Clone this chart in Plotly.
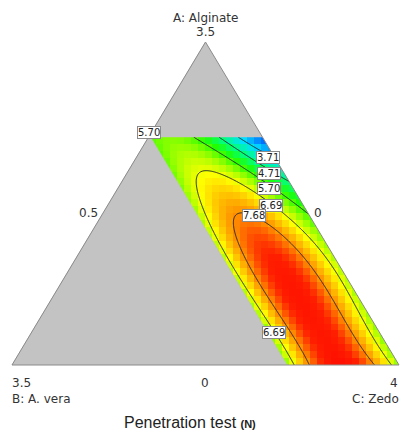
import numpy as np
import plotly.graph_objects as go

# ---------------- data ----------------
# constrained mixture region (pseudo fractions): A <= A_MAX, B <= B_MAX
A_MAX = 0.706
B_MAX = 0.289

# response samples (a = A/A_MAX, b = B/B_MAX, value in N), read row by row
sample_a = [0, 0, 0, 0, 0, 0, 0,
            0.25, 0.25, 0.25, 0.25, 0.25, 0.25, 0.25,
            0.5, 0.5, 0.5, 0.5, 0.5, 0.5, 0.5,
            0.75, 0.75, 0.75, 0.75, 0.75, 0.75,
            0.875, 0.875, 0.875, 0.875,
            1, 1, 1, 1, 1, 1,
            0.658]
sample_b = [0, 0.08, 0.25, 0.5, 0.75, 0.95, 1,
            0, 0.125, 0.23, 0.5, 0.82, 0.95, 1,
            0, 0.08, 0.16, 0.5, 0.79, 0.95, 1,
            0, 0.25, 0.5, 0.75, 0.91, 1,
            0, 0.4, 0.69, 1,
            0, 0.26, 0.35, 0.55, 0.78, 1,
            0.53]
sample_z = [6.4, 6.69, 7.7, 8.7, 7.8, 6.69, 6.1,
            6.2, 6.69, 7.68, 8.7, 7.68, 6.69, 6.2,
            5.9, 6.69, 7.68, 8.0, 7.68, 6.69, 6.2,
            5.4, 6.2, 7.1, 6.9, 6.69, 6.3,
            3.9, 5.6, 6.69, 5.9,
            2.7, 3.71, 4.71, 5.70, 5.95, 5.70,
            7.68]

contour_levels = [3.71, 4.71, 5.70, 6.69, 7.68]
contour_labels = ["5.70", "3.71", "4.71", "5.70", "6.69", "7.68", "6.69"]

vertex_titles = ["A: Alginate", "B: A. vera", "C: Zedo"]
vertex_values = ["3.5", "3.5", "4"]
side_ticks = ["0.5", "0", "0"]
chart_title = "Penetration test"
unit_text = "(N)"

# ---------------- model fit (quartic in a, b) ----------------
DEG = 4
terms = [(i, j) for i in range(DEG + 1) for j in range(DEG + 1) if i + j <= DEG]
sa, sb, sz = np.array(sample_a), np.array(sample_b), np.array(sample_z)
M = np.column_stack([sa**i * sb**j for i, j in terms])
coef, *_ = np.linalg.lstsq(M, sz, rcond=None)


def model(x, y):
    A = y
    C = x - y / 2
    B = 1 - A - C
    a = np.clip(A / A_MAX, 0, 1)
    b = np.clip(B / B_MAX, 0, 1)
    return sum(c * a**i * b**j for c, (i, j) in zip(coef, terms))


# pixel helpers (plot area == full page)
def px(p):
    return (p - 12) / 387.0


def py(q):
    return (365 - q) / 323.0


# coarse heatmap grid (Design-Expert pixels)
ny = 33
dy = A_MAX / ny
hy = dy / 2 + dy * np.arange(ny)
x0 = 0.355
nx = 36
dx = (1.005 - x0) / nx
hx = x0 + dx / 2 + dx * np.arange(nx)
HX, HY = np.meshgrid(hx, hy)
HZ = model(HX, HY)

# fine grid for contour lines
cx = np.linspace(0.30, 1.05, 300)
cy = np.linspace(-0.01, 0.72, 300)
CX, CY = np.meshgrid(cx, cy)
CZ = model(CX, CY)

ZMIN, ZMAX = 2.2, 8.8
color_values = [2.2, 2.7, 3.7, 4.7, 5.5, 6.2, 6.8, 7.3, 7.8, 8.3, 8.8]
color_hex = ["#0000ff", "#0060ff", "#00e0ff", "#00ff80", "#20ff00", "#a0ff00",
             "#ffff00", "#ffc000", "#ff8000", "#ff2000", "#ff0000"]
colorscale = [[(v - ZMIN) / (ZMAX - ZMIN), c] for v, c in zip(color_values, color_hex)]

fig = go.Figure()
fig.add_trace(go.Heatmap(x=hx, y=hy, z=HZ, colorscale=colorscale,
                         zmin=ZMIN, zmax=ZMAX, showscale=False, hoverinfo="skip"))
fig.add_trace(go.Contour(x=cx, y=cy, z=CZ, showscale=False,
                         contours=dict(coloring="none", start=contour_levels[0],
                                       end=contour_levels[-1],
                                       size=(contour_levels[-1] - contour_levels[0]) / 4),
                         line=dict(color="#2a2a2a", width=1), hoverinfo="skip"))

# region corners
bl = (1 - B_MAX, 0)
tl = (1 - A_MAX - B_MAX + A_MAX / 2, A_MAX)
tr = (1 - A_MAX + A_MAX / 2, A_MAX)

# gray infeasible area
fig.add_trace(go.Scatter(x=[0, bl[0], tl[0], tr[0], 0.5, 0],
                         y=[0, bl[1], tl[1], tr[1], 1, 0],
                         fill="toself", fillcolor="#c3c3c3", mode="lines",
                         line=dict(color="#c3c3c3", width=0.5), hoverinfo="skip"))
# white outside the triangle (right side and below)
fig.add_trace(go.Scatter(x=[0.5, 1, 1.2, 1.2, 0.5], y=[1, 0, 0, 1.2, 1.2],
                         fill="toself", fillcolor="white", mode="lines",
                         line=dict(color="white", width=0), hoverinfo="skip"))
fig.add_trace(go.Scatter(x=[-0.1, 1.2, 1.2, -0.1], y=[0, 0, -0.3, -0.3],
                         fill="toself", fillcolor="white", mode="lines",
                         line=dict(color="white", width=0), hoverinfo="skip"))
# triangle outline
fig.add_trace(go.Scatter(x=[0, 1, 0.5, 0], y=[0, 0, 1, 0], mode="lines",
                         line=dict(color="#8a8a8a", width=1), hoverinfo="skip"))

annotations = []


def txt(text, x, y, xanchor="center", size=12):
    annotations.append(dict(x=px(x), y=py(y), xref="x", yref="y", text=text,
                            showarrow=False, xanchor=xanchor, yanchor="middle",
                            font=dict(family="DejaVu Sans", size=size, color="#333")))


txt(vertex_titles[0], 205, 18)
txt(vertex_values[0], 205, 32)
txt(vertex_values[1], 10, 383, "left")
txt(vertex_titles[1], 10, 399, "left")
txt(vertex_values[2], 400, 383, "right")
txt(vertex_titles[2], 401, 399, "right")
txt(side_ticks[0], 88, 213)
txt(side_ticks[1], 205, 383)
txt(side_ticks[2], 318, 213)

annotations.append(dict(x=px(190), y=py(422), xref="x", yref="y",
                        text=chart_title + " <b><span style='font-size:11px'>" + unit_text + "</span></b>",
                        showarrow=False, xanchor="center", yanchor="middle",
                        font=dict(family="Liberation Sans", size=16, color="#222")))

label_pos = [(149, 132), (268, 157), (269, 173), (269, 188), (271, 205), (254, 215), (274, 332)]
for t, (lx, ly) in zip(contour_labels, label_pos):
    annotations.append(dict(x=px(lx), y=py(ly), xref="x", yref="y", text=t,
                            showarrow=False, xanchor="center", yanchor="middle",
                            bgcolor="white", bordercolor="#8a8a8a", borderwidth=1, borderpad=0,
                            font=dict(family="DejaVu Sans", size=10, color="#222")))

fig.update_layout(width=401, height=432, autosize=False,
                  margin=dict(l=0, r=0, t=0, b=0), showlegend=False,
                  plot_bgcolor="white", paper_bgcolor="white",
                  xaxis=dict(range=[px(0), px(401)], visible=False, fixedrange=True),
                  yaxis=dict(range=[py(432), py(0)], visible=False, fixedrange=True),
                  annotations=annotations)

fig.write_html("out.html")
